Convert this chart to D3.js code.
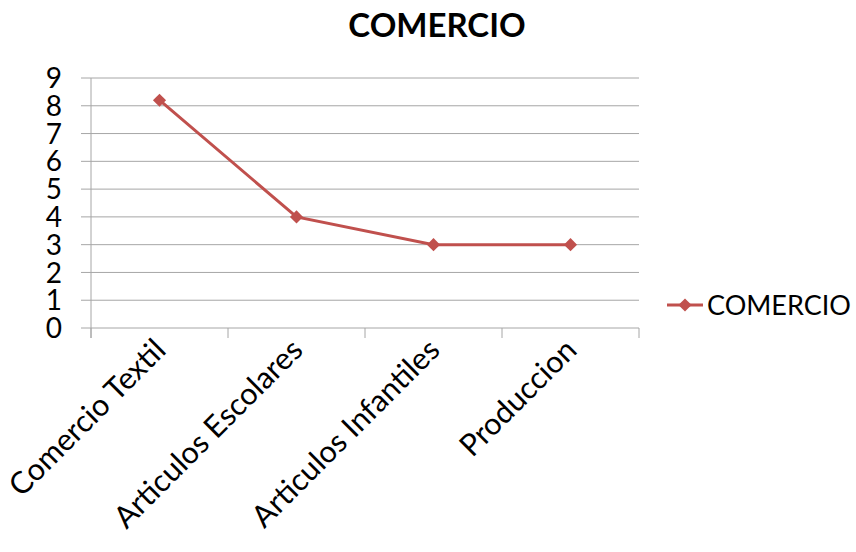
<!DOCTYPE html>
<html><head><meta charset="utf-8">
<script src="https://cdn.jsdelivr.net/npm/d3@7"></script>
<style>body{margin:0;background:#fff}svg{display:block}text{font-family:Lato,"Open Sans",sans-serif}</style>
</head><body><svg id="c" width="856" height="552"></svg>
<script>
const categories = ["Comercio Textil","Articulos Escolares","Articulos Infantiles","Produccion"];
const values = [8.2, 4, 3, 3];
const seriesName = "COMERCIO";
const chartTitle = "COMERCIO";
const yTicks = [0,1,2,3,4,5,6,7,8,9];

const svg = d3.select("#c");
const L = 91, R = 639, T = 78, B = 328;
const color = "#C0504D";
const x = d3.scaleBand().domain(categories).range([L, R]);
const y = d3.scaleLinear().domain([0, 9]).range([B, T]);

svg.append("g").selectAll("line").data(yTicks).join("line")
  .attr("x1", L - 10).attr("x2", R).attr("y1", d => y(d)).attr("y2", d => y(d))
  .attr("stroke", "#a6a6a6").attr("stroke-width", 1);
svg.append("line").attr("x1", L).attr("x2", L).attr("y1", T).attr("y2", B + 10)
  .attr("stroke", "#a6a6a6");
const bounds = categories.map(c => x(c)).concat([R]);
svg.append("g").selectAll("line").data(bounds).join("line")
  .attr("x1", d => d).attr("x2", d => d).attr("y1", B).attr("y2", B + 10)
  .attr("stroke", "#a6a6a6");
svg.append("g").selectAll("text").data(yTicks).join("text")
  .attr("x", 62).attr("y", d => y(d)).attr("dy", "0.36em")
  .attr("text-anchor", "end").attr("font-size", 28).attr("fill", "#000").text(d => d);
svg.append("g").selectAll("text").data(categories).join("text")
  .attr("text-anchor", "end").attr("font-size", 30.5).attr("fill", "#000")
  .attr("transform", d => `translate(${x(d) + x.bandwidth()/2 + 8},${B + 24}) rotate(-45)`)
  .text(d => d);
const line = d3.line().x((d, i) => x(categories[i]) + x.bandwidth()/2).y(d => y(d));
svg.append("path").datum(values).attr("d", line).attr("fill", "none")
  .attr("stroke", color).attr("stroke-width", 3);
const diamond = d3.symbol().type(d3.symbolDiamond2).size(110);
svg.append("g").selectAll("path").data(values).join("path")
  .attr("d", diamond).attr("fill", color)
  .attr("transform", (d, i) => `translate(${x(categories[i]) + x.bandwidth()/2},${y(d)})`);
svg.append("text").attr("x", 437).attr("y", 37).attr("text-anchor", "middle")
  .attr("font-size", 33).attr("font-weight", "bold").text(chartTitle);
svg.append("line").attr("x1", 667).attr("x2", 703).attr("y1", 305).attr("y2", 305)
  .attr("stroke", color).attr("stroke-width", 3);
svg.append("path").attr("d", diamond).attr("fill", color).attr("transform", "translate(685,305)");
svg.append("text").attr("x", 707).attr("y", 305).attr("dy", "0.36em")
  .attr("font-size", 27).text(seriesName);
</script></body></html>
